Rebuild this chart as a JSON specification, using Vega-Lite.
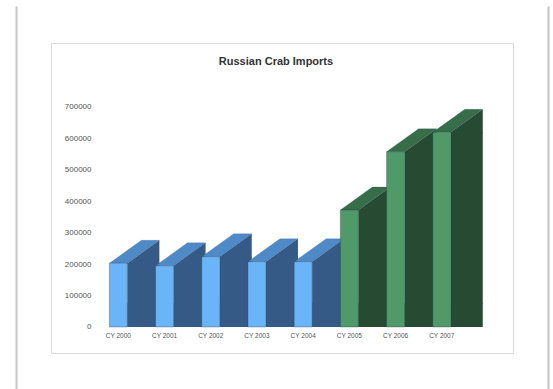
{
  "$schema": "https://vega.github.io/schema/vega-lite/v6.json",
  "width": 462,
  "height": 310,
  "autosize": {"type": "none"},
  "padding": {"left": 51, "top": 43, "right": 40, "bottom": 36},
  "background": "white",
  "config": {
    "view": {"stroke": "#dadada", "strokeWidth": 1},
    "font": "Liberation Sans"
  },
  "title": {
    "text": "Russian Crab Imports",
    "fontSize": 11,
    "fontWeight": "bold",
    "color": "#333333",
    "anchor": "middle",
    "baseline": "middle",
    "offset": -30,
    "dx": -6
  },
  "data": {
    "values": [
      {"year": "CY 2000", "value": 202700, "group": "a"},
      {"year": "CY 2001", "value": 195000, "group": "a"},
      {"year": "CY 2002", "value": 223700, "group": "a"},
      {"year": "CY 2003", "value": 207800, "group": "a"},
      {"year": "CY 2004", "value": 207800, "group": "a"},
      {"year": "CY 2005", "value": 372300, "group": "b"},
      {"year": "CY 2006", "value": 557800, "group": "b"},
      {"year": "CY 2007", "value": 619400, "group": "b"}
    ]
  },
  "encoding": {
    "x": {
      "field": "year",
      "type": "nominal",
      "sort": null,
      "scale": {"type": "band", "paddingInner": 0, "paddingOuter": 1.037, "align": 0.479},
      "axis": {
        "title": null,
        "orient": "bottom",
        "offset": -26,
        "domain": false,
        "ticks": false,
        "grid": false,
        "labelAngle": 0,
        "labelFontSize": 6.5,
        "labelColor": "#555555",
        "labelPadding": 5
      }
    }
  },
  "layer": [
    {
      "layer": [
        {
          "mark": {"type": "bar", "width": 32, "xOffset": 25, "yOffset": 0, "y2Offset": -23},
          "encoding": {
            "y": {
              "field": "value",
              "type": "quantitative",
              "scale": {"domain": [-82724, 903595], "nice": false, "zero": false},
              "axis": {
                "title": null,
                "orient": "left",
                "values": [0, 100000, 200000, 300000, 400000, 500000, 600000, 700000],
                "format": "d",
                "domain": false,
                "ticks": false,
                "grid": false,
                "offset": -42,
                "labelPadding": 2,
                "labelFontSize": 8,
                "labelColor": "#555555"
              }
            },
            "color": {
              "field": "group",
              "type": "nominal",
              "scale": {"domain": ["a", "b"], "range": ["#355a86", "#264a32"]},
              "legend": null
            }
          }
        },
        {
          "mark": {
            "type": "point",
            "shape": "M0.2195,-0.5854L0.2195,0L1,-0.561L1,-0.5854Z",
            "size": 6724,
            "filled": true,
            "opacity": 1,
            "strokeWidth": 0
          },
          "encoding": {
            "y": {"datum": 0, "type": "quantitative"},
            "color": {
              "field": "group",
              "type": "nominal",
              "scale": {"domain": ["a", "b"], "range": ["#355a86", "#264a32"]},
              "legend": null
            }
          }
        },
        {
          "mark": {
            "type": "point",
            "shape": "M0.2195,0L1,-0.561L1,0.0244L0.2195,0.0244Z",
            "size": 6724,
            "filled": true,
            "opacity": 1,
            "strokeWidth": 0
          },
          "encoding": {
            "y": {"field": "value", "type": "quantitative"},
            "color": {
              "field": "group",
              "type": "nominal",
              "scale": {"domain": ["a", "b"], "range": ["#355a86", "#264a32"]},
              "legend": null
            }
          }
        },
        {
          "mark": {
            "type": "point",
            "shape": "M-0.2195,0L0.561,-0.561L1,-0.561L0.2195,0Z",
            "size": 6724,
            "filled": true,
            "opacity": 1,
            "stroke": "#1f2f3f",
            "strokeWidth": 0.4,
            "strokeOpacity": 0.4
          },
          "encoding": {
            "y": {"field": "value", "type": "quantitative"},
            "color": {
              "field": "group",
              "type": "nominal",
              "scale": {"domain": ["a", "b"], "range": ["#4f8ac8", "#376e4a"]},
              "legend": null
            }
          }
        },
        {
          "mark": {"type": "bar", "width": 18, "stroke": "#1f3040", "strokeWidth": 0.6, "strokeOpacity": 0.5},
          "encoding": {
            "y": {"field": "value", "type": "quantitative"},
            "color": {
              "field": "group",
              "type": "nominal",
              "scale": {"domain": ["a", "b"], "range": ["#6ab4f8", "#4f9a68"]},
              "legend": null
            }
          }
        }
      ],
      "resolve": {"scale": {"color": "independent"}}
    },
    {
      "mark": {"type": "point", "opacity": 0},
      "encoding": {
        "y": {
          "field": "value",
          "type": "quantitative",
          "scale": {"domain": [0, 1000000], "range": [346, -37], "nice": false, "zero": false},
          "axis": {
            "title": null,
            "orient": "left",
            "offset": 35,
            "domain": true,
            "domainColor": "#c4c4c4",
            "domainWidth": 2,
            "labels": false,
            "ticks": false,
            "grid": false
          }
        }
      }
    },
    {
      "mark": {"type": "point", "opacity": 0},
      "encoding": {
        "y": {
          "field": "value",
          "type": "quantitative",
          "scale": {"domain": [0, 1000000], "range": [346, -37], "nice": false, "zero": false},
          "axis": {
            "title": null,
            "orient": "right",
            "offset": 35,
            "domain": true,
            "domainColor": "#c4c4c4",
            "domainWidth": 2,
            "labels": false,
            "ticks": false,
            "grid": false
          }
        }
      }
    }
  ],
  "resolve": {"scale": {"y": "independent"}}
}
